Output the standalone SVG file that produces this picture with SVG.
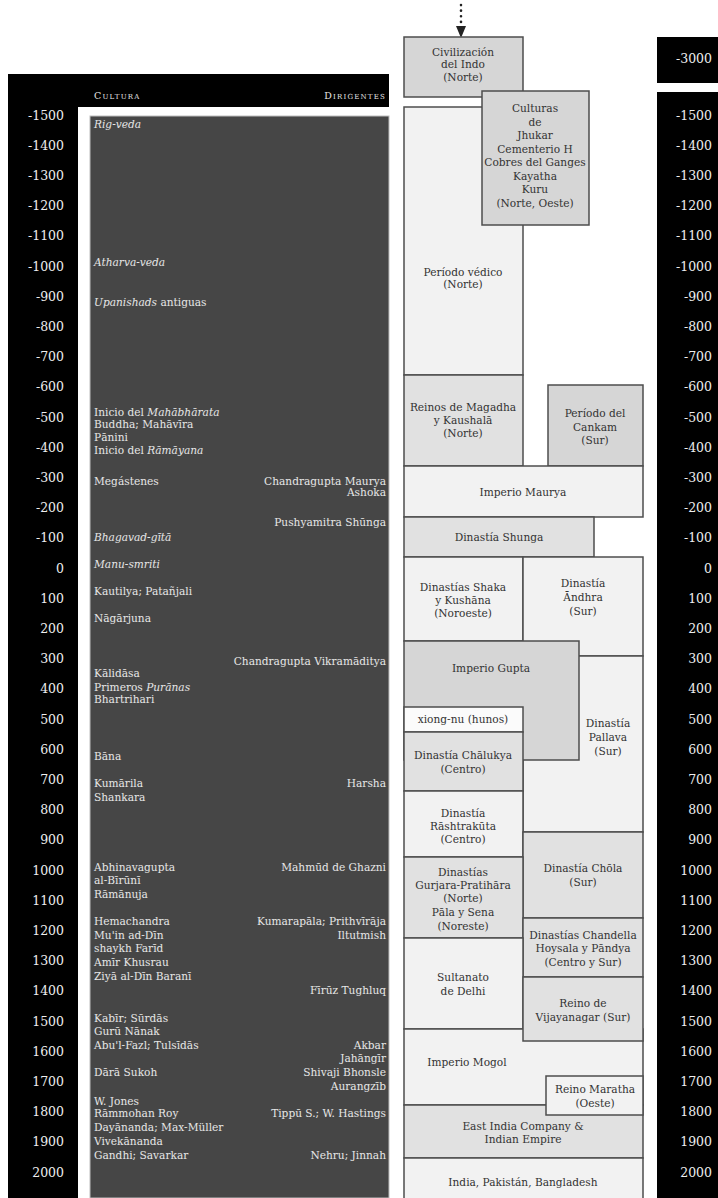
<svg xmlns="http://www.w3.org/2000/svg" width="718" height="1198" viewBox="0 0 718 1198">
<defs>
<style>
text{font-family:"DejaVu Serif","Liberation Serif",serif;}
.box{stroke:#4d4d4d;stroke-width:1.5;}
.lt{fill:#f2f2f2;}
.md{fill:#e1e1e1;}
.dk{fill:#d6d6d6;}
.wh{fill:#fbfbfb;}
.bt{font-size:10.6px;fill:#333;text-anchor:middle;}
.pt{font-size:10.6px;fill:#e6e6e6;}
.pr{font-size:10.6px;fill:#e6e6e6;text-anchor:end;}
.hd{font-size:9.5px;fill:#e6e6e6;font-variant:small-caps;letter-spacing:1.2px;}
.yr{font-size:12.5px;fill:#eeeeee;text-anchor:end;}
</style>
</defs>
<rect width="718" height="1198" fill="#ffffff"/>

<g id="left-panel">
<rect x="8" y="74" width="381" height="1124" fill="#000"/>
<rect x="78" y="107" width="312" height="1091" fill="#fff"/>
<rect x="90" y="116" width="299" height="1082" fill="#464646" stroke="#bdbdbd" stroke-width="1"/>
<text class="hd" x="94" y="99">Cultura</text>
<text class="hd" x="386" y="99" text-anchor="end">Dirigentes</text>
</g>

<g id="left-years" class="yr">
<text x="64" y="119.5">-1500</text><text x="64" y="149.7">-1400</text><text x="64" y="179.9">-1300</text><text x="64" y="210">-1200</text><text x="64" y="240">-1100</text><text x="64" y="270.5">-1000</text><text x="64" y="300.7">-900</text><text x="64" y="331">-800</text><text x="64" y="361">-700</text><text x="64" y="391">-600</text><text x="64" y="421.5">-500</text><text x="64" y="451.7">-400</text><text x="64" y="482">-300</text><text x="64" y="512">-200</text><text x="64" y="542">-100</text><text x="64" y="572.5">0</text><text x="64" y="602.7">100</text><text x="64" y="633">200</text><text x="64" y="663">300</text><text x="64" y="693">400</text><text x="64" y="723.5">500</text><text x="64" y="753.7">600</text><text x="64" y="784">700</text><text x="64" y="814">800</text><text x="64" y="844">900</text><text x="64" y="874.5">1000</text><text x="64" y="904.7">1100</text><text x="64" y="935">1200</text><text x="64" y="965">1300</text><text x="64" y="995">1400</text><text x="64" y="1025.5">1500</text><text x="64" y="1055.7">1600</text><text x="64" y="1086">1700</text><text x="64" y="1116">1800</text><text x="64" y="1146">1900</text><text x="64" y="1176.5">2000</text>
</g>

<g id="culture-texts">
<text class="pt" x="94" y="128" font-style="italic">Rig-veda</text>
<text class="pt" x="94" y="266" font-style="italic">Atharva-veda</text>
<text class="pt" x="94" y="306"><tspan font-style="italic">Upanishads</tspan> antiguas</text>
<text class="pt" x="94" y="416">Inicio del <tspan font-style="italic">Mahābhārata</tspan></text>
<text class="pt" x="94" y="428">Buddha; Mahāvīra</text>
<text class="pt" x="94" y="441">Pānini</text>
<text class="pt" x="94" y="454">Inicio del <tspan font-style="italic">Rāmāyana</tspan></text>
<text class="pt" x="94" y="485">Megástenes</text>
<text class="pt" x="94" y="541" font-style="italic">Bhagavad-gītā</text>
<text class="pt" x="94" y="568" font-style="italic">Manu-smriti</text>
<text class="pt" x="94" y="595">Kautilya; Patañjali</text>
<text class="pt" x="94" y="622">Nāgārjuna</text>
<text class="pt" x="94" y="677">Kālidāsa</text>
<text class="pt" x="94" y="691">Primeros <tspan font-style="italic">Purānas</tspan></text>
<text class="pt" x="94" y="703">Bhartrihari</text>
<text class="pt" x="94" y="760">Bāna</text>
<text class="pt" x="94" y="787">Kumārila</text>
<text class="pt" x="94" y="801">Shankara</text>
<text class="pt" x="94" y="871">Abhinavagupta</text>
<text class="pt" x="94" y="884">al-Bīrūnī</text>
<text class="pt" x="94" y="898">Rāmānuja</text>
<text class="pt" x="94" y="925">Hemachandra</text>
<text class="pt" x="94" y="939">Mu'in ad-Dīn</text>
<text class="pt" x="94" y="952">shaykh Farīd</text>
<text class="pt" x="94" y="966">Amīr Khusrau</text>
<text class="pt" x="94" y="980">Ziyā al-Dīn Baranī</text>
<text class="pt" x="94" y="1022">Kabīr; Sūrdās</text>
<text class="pt" x="94" y="1035">Gurū Nānak</text>
<text class="pt" x="94" y="1049">Abu'l-Fazl; Tulsīdās</text>
<text class="pt" x="94" y="1076">Dārā Sukoh</text>
<text class="pt" x="94" y="1105">W. Jones</text>
<text class="pt" x="94" y="1117">Rāmmohan Roy</text>
<text class="pt" x="94" y="1131">Dayānanda; Max-Müller</text>
<text class="pt" x="94" y="1145">Vivekānanda</text>
<text class="pt" x="94" y="1159">Gandhi; Savarkar</text>
</g>

<g id="ruler-texts">
<text class="pr" x="386" y="485">Chandragupta Maurya</text>
<text class="pr" x="386" y="496">Ashoka</text>
<text class="pr" x="386" y="526">Pushyamitra Shūnga</text>
<text class="pr" x="386" y="665">Chandragupta Vikramāditya</text>
<text class="pr" x="386" y="787">Harsha</text>
<text class="pr" x="386" y="871">Mahmūd de Ghazni</text>
<text class="pr" x="386" y="925">Kumarapāla; Prithvīrāja</text>
<text class="pr" x="386" y="939">Iltutmish</text>
<text class="pr" x="386" y="994">Fīrūz Tughluq</text>
<text class="pr" x="386" y="1049">Akbar</text>
<text class="pr" x="386" y="1062">Jahāngīr</text>
<text class="pr" x="386" y="1076">Shivaji Bhonsle</text>
<text class="pr" x="386" y="1090">Aurangzīb</text>
<text class="pr" x="386" y="1117">Tippū S.; W. Hastings</text>
<text class="pr" x="386" y="1159">Nehru; Jinnah</text>
</g>

<g id="connectors">
<line x1="461" y1="5" x2="461" y2="26" stroke="#222" stroke-width="2.6" stroke-linecap="round" stroke-dasharray="0.1 5.5"/>
<path d="M456,26 L466,26 L461,38 Z" fill="#222"/>
</g>

<g id="n-indo"><rect class="box dk" x="404" y="37" width="119" height="60"/>
<text class="bt" x="463" y="56">Civilización</text><text class="bt" x="463" y="68">del Indo</text><text class="bt" x="463" y="81">(Norte)</text></g>

<g id="n-vedico"><rect class="box lt" x="404" y="107" width="119" height="268"/>
<text class="bt" x="463" y="276">Período védico</text><text class="bt" x="463" y="288">(Norte)</text></g>

<g id="n-culturas"><rect class="box dk" x="482" y="91" width="107" height="134"/>
<text class="bt" x="535" y="112">Culturas</text><text class="bt" x="535" y="125.5">de</text><text class="bt" x="535" y="139">Jhukar</text><text class="bt" x="535" y="152.5">Cementerio H</text><text class="bt" x="535" y="166">Cobres del Ganges</text><text class="bt" x="535" y="179.5">Kayatha</text><text class="bt" x="535" y="193">Kuru</text><text class="bt" x="535" y="206.5">(Norte, Oeste)</text></g>

<g id="n-magadha"><rect class="box md" x="404" y="375" width="119" height="91"/>
<text class="bt" x="463" y="411">Reinos de Magadha</text><text class="bt" x="463" y="424">y Kaushalā</text><text class="bt" x="463" y="437">(Norte)</text></g>

<g id="n-cankam"><rect class="box dk" x="548" y="385" width="95" height="81"/>
<text class="bt" x="595" y="417">Período del</text><text class="bt" x="595" y="431">Cankam</text><text class="bt" x="595" y="444">(Sur)</text></g>

<g id="n-maurya"><rect class="box lt" x="404" y="466" width="239" height="51"/>
<text class="bt" x="523" y="496">Imperio Maurya</text></g>

<g id="n-shunga"><rect class="box md" x="404" y="517" width="190" height="40"/>
<text class="bt" x="499" y="541">Dinastía Shunga</text></g>

<g id="n-shaka"><rect class="box lt" x="404" y="557" width="119" height="84"/>
<text class="bt" x="463" y="591">Dinastías Shaka</text><text class="bt" x="463" y="604">y Kushāna</text><text class="bt" x="463" y="617">(Noroeste)</text></g>

<g id="n-andhra"><rect class="box lt" x="523" y="557" width="120" height="99"/>
<text class="bt" x="583" y="587">Dinastía</text><text class="bt" x="583" y="601">Āndhra</text><text class="bt" x="583" y="615">(Sur)</text></g>

<g id="n-pallava"><rect class="box lt" x="523" y="656" width="120" height="176"/>
<text class="bt" x="608" y="727">Dinastía</text><text class="bt" x="608" y="741">Pallava</text><text class="bt" x="608" y="755">(Sur)</text></g>

<g id="n-gupta"><rect class="box dk" x="404" y="641" width="175" height="119"/>
<text class="bt" x="491" y="672">Imperio Gupta</text></g>

<g id="n-hunos"><rect class="box wh" x="404" y="707" width="119" height="25"/>
<text class="bt" x="463" y="723">xiong-nu (hunos)</text></g>

<g id="n-chalukya"><rect class="box md" x="404" y="732" width="119" height="59"/>
<text class="bt" x="463" y="759">Dinastía Chālukya</text><text class="bt" x="463" y="773">(Centro)</text></g>

<g id="n-rashtrakuta"><rect class="box lt" x="404" y="791" width="119" height="66"/>
<text class="bt" x="463" y="817">Dinastía</text><text class="bt" x="463" y="830">Rāshtrakūta</text><text class="bt" x="463" y="843">(Centro)</text></g>

<g id="n-chola"><rect class="box md" x="523" y="832" width="120" height="86"/>
<text class="bt" x="583" y="872">Dinastía Chōla</text><text class="bt" x="583" y="886">(Sur)</text></g>

<g id="n-gurjara"><rect class="box md" x="404" y="857" width="119" height="81"/>
<text class="bt" x="463" y="876">Dinastías</text><text class="bt" x="463" y="889">Gurjara-Pratihāra</text><text class="bt" x="463" y="902">(Norte)</text><text class="bt" x="463" y="916">Pāla y Sena</text><text class="bt" x="463" y="930">(Noreste)</text></g>

<g id="n-chandella"><rect class="box md" x="523" y="918" width="120" height="59"/>
<text class="bt" x="583" y="939">Dinastías Chandella</text><text class="bt" x="583" y="952">Hoysala y Pāndya</text><text class="bt" x="583" y="966">(Centro y Sur)</text></g>

<g id="n-delhi"><rect class="box lt" x="404" y="938" width="119" height="91"/>
<text class="bt" x="463" y="981">Sultanato</text><text class="bt" x="463" y="995">de Delhi</text></g>

<g id="n-mogol"><rect class="box lt" x="404" y="1029" width="239" height="76"/>
<text class="bt" x="467" y="1066">Imperio Mogol</text></g>

<g id="n-vijayanagar"><rect class="box md" x="523" y="977" width="120" height="64"/>
<text class="bt" x="583" y="1007">Reino de</text><text class="bt" x="583" y="1021">Vijayanagar (Sur)</text></g>

<g id="n-eastindia"><rect class="box md" x="404" y="1105" width="239" height="53"/>
<text class="bt" x="523" y="1130">East India Company &amp;</text><text class="bt" x="523" y="1143">Indian Empire</text></g>

<g id="n-maratha"><rect class="box lt" x="546" y="1076" width="97" height="39"/>
<text class="bt" x="595" y="1093">Reino Maratha</text><text class="bt" x="595" y="1107">(Oeste)</text></g>

<g id="n-india"><rect class="box lt" x="404" y="1158" width="239" height="44"/>
<text class="bt" x="523" y="1186">India, Pakistán, Bangladesh</text></g>

<g id="right-panel">
<rect x="657" y="37" width="61" height="46" fill="#000"/>
<rect x="657" y="92" width="61" height="1106" fill="#000"/>
</g>
<g id="right-years" class="yr">
<text x="712" y="62.5">-3000</text>
<text x="712" y="119.5">-1500</text><text x="712" y="149.7">-1400</text><text x="712" y="179.9">-1300</text><text x="712" y="210">-1200</text><text x="712" y="240">-1100</text><text x="712" y="270.5">-1000</text><text x="712" y="300.7">-900</text><text x="712" y="331">-800</text><text x="712" y="361">-700</text><text x="712" y="391">-600</text><text x="712" y="421.5">-500</text><text x="712" y="451.7">-400</text><text x="712" y="482">-300</text><text x="712" y="512">-200</text><text x="712" y="542">-100</text><text x="712" y="572.5">0</text><text x="712" y="602.7">100</text><text x="712" y="633">200</text><text x="712" y="663">300</text><text x="712" y="693">400</text><text x="712" y="723.5">500</text><text x="712" y="753.7">600</text><text x="712" y="784">700</text><text x="712" y="814">800</text><text x="712" y="844">900</text><text x="712" y="874.5">1000</text><text x="712" y="904.7">1100</text><text x="712" y="935">1200</text><text x="712" y="965">1300</text><text x="712" y="995">1400</text><text x="712" y="1025.5">1500</text><text x="712" y="1055.7">1600</text><text x="712" y="1086">1700</text><text x="712" y="1116">1800</text><text x="712" y="1146">1900</text><text x="712" y="1176.5">2000</text>
</g>
</svg>
